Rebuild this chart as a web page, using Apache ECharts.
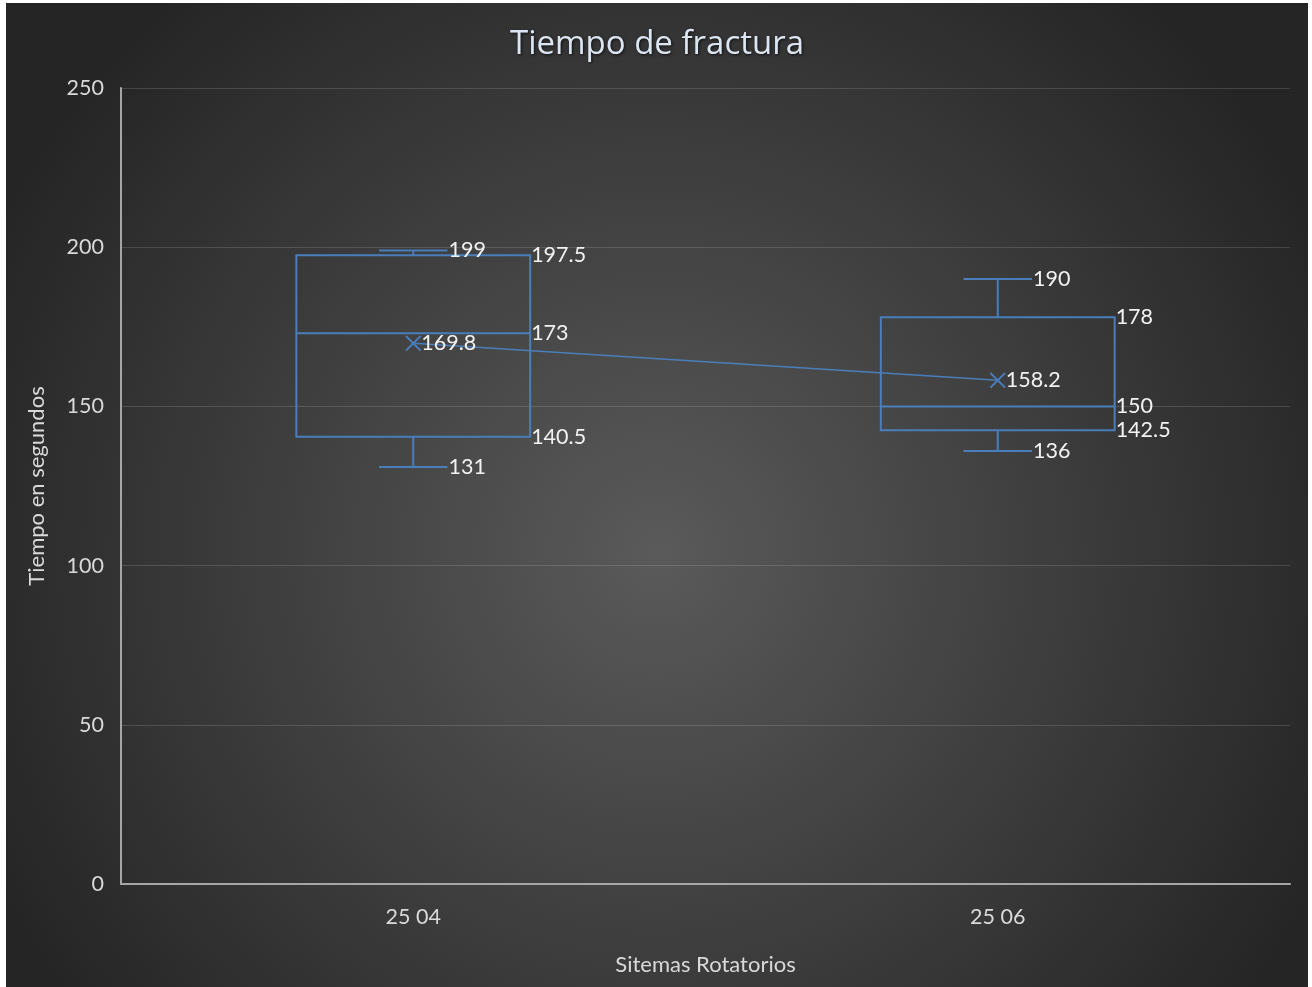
<!DOCTYPE html>
<html><head><meta charset="utf-8">
<script src="https://cdn.jsdelivr.net/npm/echarts@6/dist/echarts.min.js"></script>
<style>
html,body{margin:0;padding:0;background:#ffffff;width:1312px;height:987px;overflow:hidden;}
#c{position:absolute;left:6px;top:3px;width:1302px;height:984px;}
</style></head>
<body><div id="c"></div>
<script>
var categories = ['25 04', '25 06'];
var minValues = [131, 136];
var q1Values = [140.5, 142.5];
var medianValues = [173, 150];
var q3Values = [197.5, 178];
var maxValues = [199, 190];
var meanValues = [169.8, 158.2];
var yTicks = [0, 50, 100, 150, 200, 250];

var BLUE = '#4a7ebb';
var LABEL = '#f2f2f2';
var FONT = 'Lato, "Open Sans", sans-serif';

var boxData = categories.map(function (c, i) {
  return [i, minValues[i], q1Values[i], medianValues[i], q3Values[i], maxValues[i]];
});

function fmt(v) { return String(v); }

function renderBox(params, api) {
  var x = api.value(0);
  var vals = [api.value(1), api.value(2), api.value(3), api.value(4), api.value(5)];
  var band = api.size([1, 0])[0];
  var boxW = band * 0.4;
  var capW = band * 0.117;
  var p = vals.map(function (v) { return api.coord([x, v]); });
  var cx = p[0][0];
  var left = cx - boxW / 2, right = cx + boxW / 2;
  var ls = { stroke: BLUE, lineWidth: 2, fill: null };
  var children = [];
  children.push({ type: 'rect', shape: { x: left, y: p[3][1], width: boxW, height: p[1][1] - p[3][1] }, style: { stroke: BLUE, lineWidth: 2, fill: 'rgba(0,0,0,0)' } });
  children.push({ type: 'line', shape: { x1: left, y1: p[2][1], x2: right, y2: p[2][1] }, style: ls });
  children.push({ type: 'line', shape: { x1: cx, y1: p[3][1], x2: cx, y2: p[4][1] }, style: ls });
  children.push({ type: 'line', shape: { x1: cx, y1: p[1][1], x2: cx, y2: p[0][1] }, style: ls });
  children.push({ type: 'line', shape: { x1: cx - capW / 2, y1: p[4][1], x2: cx + capW / 2, y2: p[4][1] }, style: ls });
  children.push({ type: 'line', shape: { x1: cx - capW / 2, y1: p[0][1], x2: cx + capW / 2, y2: p[0][1] }, style: ls });
  function txt(xx, yy, s) {
    children.push({ type: 'text', style: { x: xx, y: yy, text: s, fill: LABEL, font: '21.5px ' + FONT, textAlign: 'left', textVerticalAlign: 'middle' } });
  }
  txt(cx + capW / 2 + 1, p[4][1], fmt(vals[4]));
  txt(cx + capW / 2 + 1, p[0][1], fmt(vals[0]));
  txt(right + 1, p[3][1], fmt(vals[3]));
  txt(right + 1, p[2][1], fmt(vals[2]));
  txt(right + 1, p[1][1], fmt(vals[1]));
  return { type: 'group', children: children };
}

var chart = echarts.init(document.getElementById('c'), null, { renderer: 'canvas' });
chart.setOption({
  backgroundColor: {
    type: 'radial', x: 0.5, y: 0.56, r: 0.75,
    colorStops: [{ offset: 0, color: '#5a5a5a' }, { offset: 1, color: '#252525' }]
  },
  title: {
    text: 'Tiempo de fractura',
    left: 'center', top: 20,
    textStyle: {
      color: '#dce6f2', fontSize: 33, fontWeight: 'normal', fontFamily: '"Open Sans", sans-serif',
      textShadowColor: 'rgba(0,0,0,0.7)', textShadowBlur: 3, textShadowOffsetX: 1, textShadowOffsetY: 1
    }
  },
  grid: { left: 115, right: 18, top: 85, bottom: 103, containLabel: false },
  xAxis: {
    type: 'category', data: categories,
    name: 'Sitemas Rotatorios', nameLocation: 'middle', nameGap: 70,
    nameTextStyle: { color: '#d9d9d9', fontSize: 22, fontFamily: FONT },
    axisLine: { lineStyle: { color: '#a6a6a6', width: 2 } },
    axisTick: { show: false },
    axisLabel: { color: '#d9d9d9', fontSize: 21.5, fontFamily: FONT, margin: 22 },
    splitLine: { show: false }
  },
  yAxis: {
    type: 'value', min: 0, max: 250, interval: 50,
    name: 'Tiempo en segundos', nameLocation: 'middle', nameGap: 73, nameRotate: 90,
    nameTextStyle: { color: '#d9d9d9', fontSize: 22, fontFamily: FONT },
    axisLine: { show: true, lineStyle: { color: '#a6a6a6', width: 2 } },
    axisTick: { show: false },
    axisLabel: { color: '#d9d9d9', fontSize: 21.5, fontFamily: FONT, margin: 17,
      formatter: function (v) { return yTicks.indexOf(v) >= 0 ? String(v) : ''; } },
    splitLine: { lineStyle: { color: 'rgba(255,255,255,0.14)', width: 1 } }
  },
  series: [
    {
      type: 'custom', name: 'box', renderItem: renderBox, data: boxData,
      encode: { x: 0, y: [1, 2, 3, 4, 5] }, z: 2
    },
    {
      type: 'line', name: 'mean', data: meanValues, z: 3,
      symbol: 'path://M0,1.4L1.4,0L8,6.6L14.6,0L16,1.4L9.4,8L16,14.6L14.6,16L8,9.4L1.4,16L0,14.6L6.6,8Z',
      symbolSize: 16,
      itemStyle: { color: BLUE },
      lineStyle: { color: BLUE, width: 1.5 },
      label: { show: true, position: 'right', distance: 0, color: LABEL, fontSize: 21.5, fontFamily: FONT },
      animation: false
    }
  ],
  animation: false
});
</script></body></html>
